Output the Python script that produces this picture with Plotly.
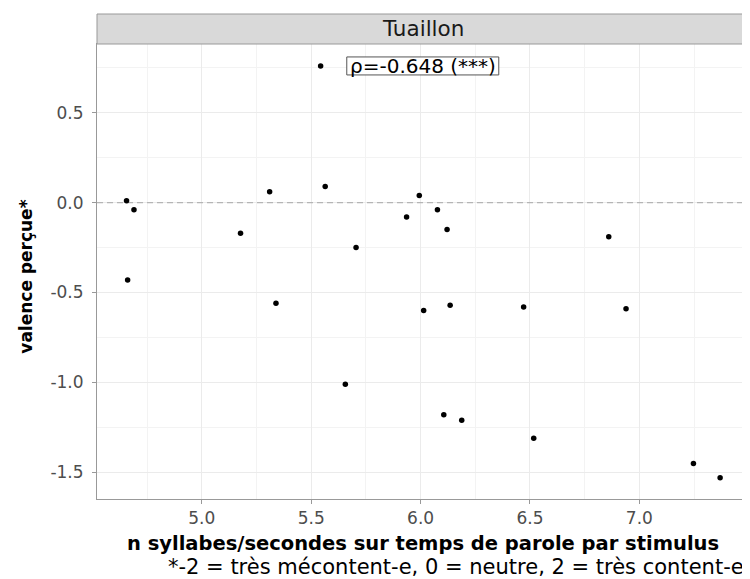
import plotly.graph_objects as go

# Data
x_vals = [4.656, 4.69, 4.661, 5.177, 5.31, 5.339, 5.543, 5.564, 5.656, 5.705,
          5.936, 5.994, 6.014, 6.077, 6.106, 6.121, 6.135, 6.188, 6.471, 6.517,
          6.86, 6.939, 7.247, 7.369]
y_vals = [0.01, -0.04, -0.43, -0.17, 0.06, -0.56, 0.76, 0.09, -1.01, -0.25,
          -0.08, 0.04, -0.60, -0.04, -1.18, -0.15, -0.57, -1.21, -0.58, -1.31,
          -0.19, -0.59, -1.45, -1.53]

x_ticks = [5.0, 5.5, 6.0, 6.5, 7.0]
x_ticklabels = ["5.0", "5.5", "6.0", "6.5", "7.0"]
y_ticks = [-1.5, -1.0, -0.5, 0.0, 0.5]
y_ticklabels = ["-1.5", "-1.0", "-0.5", "0.0", "0.5"]

facet_label = "Tuaillon"
rho_label = "ρ=-0.648 (***)"
rho_pos = (6.01, 0.76)
x_title = "n syllabes/secondes sur temps de parole par stimulus"
y_title = "valence perçue*"
caption = "*-2 = très mécontent-e, 0 = neutre, 2 = très content-e"

FONT = "DejaVu Sans, Liberation Sans, sans-serif"
fig = go.Figure()

# dashed reference line at y = 0 (drawn first so points sit on top)
fig.add_trace(go.Scatter(
    x=[4.521, 7.501], y=[0, 0], mode="lines",
    line=dict(color="#B5B5B5", width=1.2, dash="6px,4px"),
    showlegend=False, hoverinfo="skip",
))
fig.add_trace(go.Scatter(
    x=x_vals, y=y_vals, mode="markers",
    marker=dict(color="black", size=5.5),
    showlegend=False, hoverinfo="x+y",
))

grid = "#EBEBEB"
axis_common = dict(
    showgrid=True, gridcolor=grid, gridwidth=1,
    ticks="outside", ticklen=4, tickcolor="#999999",
    showline=True, linecolor="#999999", linewidth=1, mirror=True,
    zeroline=False,
    tickfont=dict(family=FONT, size=17, color="#4D4D4D"),
)
fig.update_xaxes(
    range=[4.521, 7.501], tickmode="array", tickvals=x_ticks, ticktext=x_ticklabels,
    minor=dict(tickvals=[4.75, 5.25, 5.75, 6.25, 6.75, 7.25], showgrid=True,
               gridcolor="#F3F3F3", gridwidth=0.6, ticks=""),
    **axis_common,
)
fig.update_yaxes(
    range=[-1.648, 0.882], tickmode="array", tickvals=y_ticks, ticktext=y_ticklabels,
    minor=dict(tickvals=[-1.25, -0.75, -0.25, 0.25, 0.75], showgrid=True,
               gridcolor="#F3F3F3", gridwidth=0.6, ticks=""),
    ticklabelstandoff=5,
    **axis_common,
)

plot_h = 455
strip_h = 30
fig.add_shape(type="rect", xref="paper", yref="paper",
              x0=0, x1=1, y0=1, y1=1 + strip_h / plot_h,
              fillcolor="#D9D9D9", line=dict(color="#999999", width=1))
# label box around the correlation text
fig.add_shape(type="rect", xref="x", yref="y",
              xsizemode="pixel", ysizemode="pixel",
              xanchor=rho_pos[0], yanchor=rho_pos[1],
              x0=-76, x1=76, y0=-9, y1=9,
              fillcolor="white", line=dict(color="#555555", width=1))

annotations = [
    dict(text=facet_label, xref="paper", yref="paper", x=0.5, y=1 + strip_h / plot_h / 2,
         showarrow=False, font=dict(family=FONT, size=21.5, color="#1A1A1A"),
         xanchor="center", yanchor="middle"),
    dict(text=rho_label, x=rho_pos[0], y=rho_pos[1], xref="x", yref="y",
         showarrow=False, font=dict(family=FONT, size=20, color="black"),
         xanchor="center", yanchor="middle"),
    dict(text="<b>" + x_title + "</b>", xref="paper", yref="paper", x=0.5, y=0,
         yshift=-44, showarrow=False, font=dict(family=FONT, size=19.5, color="black"),
         xanchor="center", yanchor="middle"),
    dict(text=caption, xref="paper", yref="paper", x=1, y=0, xshift=-3,
         yshift=-68, showarrow=False, font=dict(family=FONT, size=21, color="black"),
         xanchor="right", yanchor="middle"),
    dict(text="<b>" + y_title + "</b>", xref="paper", yref="paper", x=0, y=0.4886,
         xshift=-71, textangle=-90, showarrow=False,
         font=dict(family=FONT, size=17, color="black"),
         xanchor="center", yanchor="middle"),
]
fig.update_layout(
    width=742, height=571,
    margin=dict(l=89, r=1, t=36, b=80),
    plot_bgcolor="white", paper_bgcolor="white",
    annotations=annotations,
    showlegend=False,
)

fig.write_html("out.html")
